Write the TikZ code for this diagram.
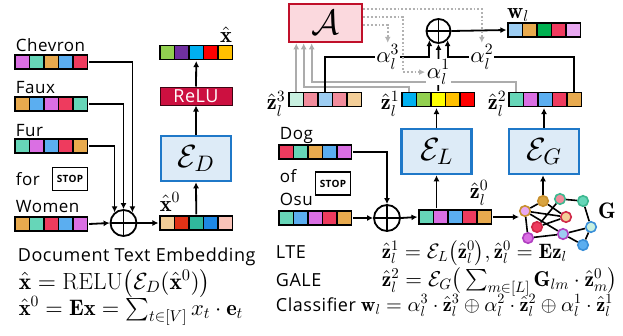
\documentclass[tikz,border=0pt]{standalone}
\usepackage{amsmath}
\usepackage{graphicx}
\usepackage{fontspec}
\newfontfamily\uifont{Open Sans}[LetterSpace=3]
\usetikzlibrary{arrows.meta, calc, fit}

\DeclareFontShape{OML}{cmm}{m}{it}{<->cmmi10}{}
\DeclareFontShape{OML}{cmm}{b}{it}{<->cmmib10}{}
\DeclareFontShape{OMS}{cmsy}{m}{n}{<->cmsy10}{}
\DeclareFontShape{OMS}{cmsy}{b}{n}{<->cmbsy10}{}
\DeclareFontShape{OMX}{cmex}{m}{n}{<->cmex10}{}
\DeclareFontShape{OT1}{cmr}{m}{n}{<->cmr10}{}
\DeclareFontShape{OT1}{cmr}{bx}{n}{<->cmbx10}{}

\definecolor{cOrchid}{HTML}{DA6FE3}
\definecolor{cTeal}{HTML}{66D6B8}
\definecolor{cOrange}{HTML}{E8AA4E}
\definecolor{cBlue}{HTML}{5BAEF0}
\definecolor{cRose}{HTML}{EE3B5E}
\definecolor{cWheat}{HTML}{F3CE98}
\definecolor{cVermil}{HTML}{E03216}
\definecolor{cJade}{HTML}{30B89C}
\definecolor{cAzure}{HTML}{1E88E5}
\definecolor{cBlush}{HTML}{FAC3B8}
\definecolor{cLime}{HTML}{92D050}
\definecolor{cPurple}{HTML}{7030A0}
\definecolor{cCyan}{HTML}{00B0F0}
\definecolor{cRed}{HTML}{FF0000}
\definecolor{cGold}{HTML}{FFC000}
\definecolor{cYellow}{HTML}{FFFF00}
\definecolor{cMint}{HTML}{C8F0E0}
\definecolor{cPink}{HTML}{F18C9C}
\definecolor{cSky}{HTML}{9DCDF2}
\definecolor{cGreen}{HTML}{00B050}
\definecolor{cLilac}{HTML}{E8A8F0}
\definecolor{encBlue}{HTML}{1F78C8}
\definecolor{encFill}{HTML}{DDEBF7}
\definecolor{attnRed}{HTML}{C0102A}
\definecolor{attnFill}{HTML}{FBD9DE}
\definecolor{reluRed}{HTML}{CC1040}
\definecolor{gTan}{HTML}{C8902E}
\definecolor{gTanFill}{HTML}{D9A441}
\definecolor{gSea}{HTML}{3DB890}
\definecolor{gCrim}{HTML}{D02848}
\definecolor{gRoyal}{HTML}{3A8FD8}
\definecolor{gPlum}{HTML}{B040C0}

\newcommand{\mathsize}{\fontsize{19.5}{22}\selectfont}
\newcommand{\mlbl}[1]{\scalebox{1.15}{$#1$}}

\tikzset{
  cell/.style={draw=black, line width=1.3pt, minimum width=14.5pt, minimum height=14pt, inner sep=0pt},
  enc/.style={draw=encBlue, fill=encFill, line width=2.6pt, minimum width=70pt, minimum height=45pt, inner sep=0pt, font=\fontsize{32}{32}\selectfont},
  attnbox/.style={draw=attnRed, fill=attnFill, line width=2.6pt, minimum width=73pt, minimum height=38pt, inner sep=0pt, font=\fontsize{35}{35}\selectfont},
  relubox/.style={draw=black!70!reluRed, fill=reluRed, line width=1pt, minimum width=72pt, minimum height=18pt, inner sep=0pt, text=white, font=\uifont\fontsize{18}{18}\selectfont},
  stopbox/.style={draw=black, line width=1.5pt, fill=white, minimum width=35pt, minimum height=23pt, inner sep=0pt, font=\uifont\fontsize{10}{10}\selectfont\bfseries},
  oplus/.style={circle, draw=black, line width=1.8pt, minimum size=26pt, inner sep=0pt,
    path picture={\draw[line width=1.8pt] (path picture bounding box.north) -- (path picture bounding box.south)
      (path picture bounding box.west) -- (path picture bounding box.east);}},
  mlab/.style={inner sep=1pt, font=\mathsize},
  alab/.style={fill=white, inner sep=1pt, font=\mathsize},
  gbus/.style={draw=gray!65, line width=1.8pt, ->},
  dbus/.style={draw=gray!60, line width=1.8pt, dotted, ->},
  gnode/.style={circle, minimum size=10.5pt, inner sep=0pt, line width=1.6pt},
  gedge/.style={line width=1.6pt}
}

\newcommand{\embbar}[4]{%
  \foreach \clr [count=\i] in {#4}
    \node[cell, fill=\clr] (#1\i) at ({#2+(\i-0.5)*14.5},#3) {};
  \node[fit=(#11)(#15), inner sep=0pt] (#1) {};
}

\begin{document}
\begin{tikzpicture}[x=1pt, y=-1pt, line width=1.8pt, >={Latex[length=6pt,width=6pt]},
    font=\uifont\fontsize{17}{20}\selectfont]
  \useasboundingbox (0,0) rectangle (623,335);

  % left: document text embedding
  \node[anchor=base west, inner sep=0pt] (tchev) at (15,51) {Chevron};
  \node[anchor=base west, inner sep=0pt] (tfaux) at (15,93) {Faux};
  \node[anchor=base west, inner sep=0pt] (tfur) at (15,136) {Fur};
  \node[anchor=base west, inner sep=0pt] (tfor) at (15,185) {for};
  \node[anchor=base west, inner sep=0pt] (twomen) at (15,212) {Women};
  \embbar{chev}{15}{62}{cOrchid,cTeal,cOrange,cBlue,cRose}
  \embbar{faux}{15}{104}{cOrange,cBlue,cOrchid,cRose,cTeal}
  \embbar{fur}{15}{146}{cTeal,cOrchid,cBlue,cRose,cOrange}
  \embbar{women}{15}{224}{cOrange,cTeal,cRose,cBlue,cOrchid}
  \embbar{xzero}{160}{223}{cWheat,cVermil,cJade,cAzure,cBlush}
  \embbar{xhat}{160}{52.5}{cLime,cPurple,cCyan,cRed,cGold}
  \node[stopbox] (stopL) at (70,179) {STOP};
  \node[oplus] (plusL) at (123.5,223) {};
  \node[enc] (encD) at (196,158.5) {$\mathcal{E}_D$};
  \node[relubox] (relu) at (196,96) {ReLU};
  \node[mlab] (lxzero) at (170,202) {\mlbl{\hat{\mathbf{x}}^0}};
  \node[mlab] (lxhat) at (226,35) {\mlbl{\hat{\mathbf{x}}}};

  \draw[->] (chev.east) -| (plusL.50);
  \draw[->] (faux.east) -| (plusL.north);
  \draw[->] (fur.east) -| (plusL.130);
  \draw[->] (women.east) -- (plusL.west);
  \draw[->] (plusL.east) -- (xzero.west);
  \draw[->] (xzero.north) -- (encD.south);
  \draw[->] (encD.north) -- (relu.south);
  \draw[->] (relu.north) -- (xhat.south);

  % right: label text, LTE and GALE
  \node[anchor=base west, inner sep=0pt] (tdog) at (279,139) {Dog};
  \node[anchor=base west, inner sep=0pt] (tof) at (279,182) {of};
  \node[anchor=base west, inner sep=0pt] (tosu) at (279,205) {Osu};
  \embbar{dog}{279}{152}{cRose,cTeal,cOrange,cBlue,cOrchid}
  \embbar{osu}{279}{218}{cTeal,cBlue,cOrchid,cRose,cOrange}
  \embbar{zzero}{419}{217}{cTeal,cOrchid,cBlue,cRose,cOrange}
  \embbar{zthree}{289}{99.5}{cMint,cPink,cSky,cPink,cWheat}
  \embbar{zone}{402}{99.5}{cCyan,cLime,cYellow,cGold,cRed}
  \embbar{ztwo}{509}{99.5}{cTeal,cOrchid,cBlue,cRose,cOrange}
  \embbar{wl}{508}{30}{cSky,cOrange,cGreen,cRose,cLilac}
  \node[stopbox] (stopR) at (333,183.5) {STOP};
  \node[oplus] (plusR) at (387,218) {};
  \node[oplus, minimum size=24pt] (plusT) at (438.5,31) {};
  \node[enc] (encL) at (436.5,151.5) {$\mathcal{E}_L$};
  \node[enc] (encG) at (544,151.5) {$\mathcal{E}_G$};
  \node[attnbox] (attn) at (325.5,23) {$\mathcal{A}$};
  \node[mlab] (lzzero) at (479,193) {\mlbl{\hat{\mathbf{z}}_l^0}};
  \node[mlab] (lzthree) at (276,104) {\mlbl{\hat{\mathbf{z}}_l^3}};
  \node[mlab] (lzone) at (390,104) {\mlbl{\hat{\mathbf{z}}_l^1}};
  \node[mlab] (lztwo) at (497,104) {\mlbl{\hat{\mathbf{z}}_l^2}};
  \node[mlab] (lwl) at (518,15) {\mlbl{\mathbf{w}_l}};
  \node[mlab] (lG) at (607,211) {\mlbl{\mathbf{G}}};

  % label graph
  \node[gnode, draw=gTan, fill=gTanFill] (g1) at (543,201) {};
  \node[gnode, draw=gSea, fill=cPink] (g2) at (560,199) {};
  \node[gnode, draw=gSea, fill=cTeal] (g3) at (583,201) {};
  \node[gnode, draw=gTan, fill=cLilac] (g4) at (525,211) {};
  \node[gnode, draw=gCrim, fill=cWheat] (g5) at (566,217) {};
  \node[gnode, draw=gCrim, fill=cRose] (g6) at (537,227) {};
  \node[gnode, draw=gRoyal, fill=cMint] (g7) at (591,227) {};
  \node[gnode, draw=gPlum, fill=cOrchid] (g8) at (528,238) {};
  \node[gnode, draw=gPlum, fill=cSky] (g9) at (563,234) {};
  \node[gnode, draw=gRoyal, fill=cBlue] (g10) at (583,245) {};
  \foreach \a/\b in {g4/g1, g4/g5, g4/g9, g4/g8, g1/g5, g2/g6, g2/g3, g3/g7, g6/g5, g8/g9, g9/g7, g7/g10, g9/g10}
    \draw[gedge] (\a) -- (\b);

  \draw[->] (dog.east) -| (plusR.north);
  \draw[->] (osu.east) -- (plusR.west);
  \draw[->] (plusR.east) -- (zzero.west);
  \draw[->] (zzero.north -| encL.south) -- (encL.south);
  \draw[->] (encL.north) -- (encL.north |- zone.south);
  \draw[->] (zzero.east) -- (zzero.east -| g4.west);
  \draw[->] (g1.north) -- (g1.north |- encG.south);
  \draw[->] (encG.north) -- (encG.north |- ztwo.south);

  \draw[gbus] (zthree1.north) -- (zthree1.north |- attn.south);
  \draw[gbus] (zone1.north) -- ++(0,-5) -| ([xshift=16pt]attn.south west);
  \draw[gbus] (ztwo1.north) -- ++(0,-10) -| ([xshift=24pt]attn.south west);

  \coordinate (lev) at (0,57);
  \draw[->] (zthree3.north) |- node[alab, pos=0.8] (al3) {\mlbl{\alpha_l^3}} (plusT.225 |- lev) -- (plusT.225);
  \draw[->] (zone.north) -- node[alab, pos=0.4] (al1) {\mlbl{\alpha_l^1}} (plusT.south);
  \draw[->] (ztwo5.north) |- node[alab, pos=0.865] (al2) {\mlbl{\alpha_l^2}} (plusT.315 |- lev) -- (plusT.315);
  \draw[->] (plusT.east) -- (wl.west);

  \draw[dbus] ([yshift=14pt]attn.east) -| (al2.north);
  \draw[dbus] ([yshift=6pt]attn.east) -| ([xshift=-22pt]al1.west) -- (al1.west);
  \draw[dbus] ([yshift=-2pt]attn.east) -| (al3.north);

  % formulas
  \node[anchor=base west, inner sep=0pt, font=\uifont\fontsize{18}{20}\selectfont] (tdoc) at (17,261) {Document Text Embedding};
  \node[anchor=base west, inner sep=0pt, mlab] (fxhat) at (17,289) {\scalebox{1.2}{$\hat{\mathbf{x}} = \mathrm{RELU}\big(\mathcal{E}_D(\hat{\mathbf{x}}^0)\big)$}};
  \node[anchor=base west, inner sep=0pt, mlab] (fxzero) at (17,315) {\scalebox{1.15}{$\hat{\mathbf{x}}^0 = \mathbf{E}\mathbf{x} = \sum_{t\in[V]} x_t\cdot\mathbf{e}_t$}};
  \node[anchor=base west, inner sep=0pt, font=\uifont\fontsize{18}{20}\selectfont] (tlte) at (275,258) {LTE};
  \node[anchor=base west, inner sep=0pt, mlab] (flte) at (380,258) {\scalebox{1.07}{$\hat{\mathbf{z}}_l^1 = \mathcal{E}_L\big(\hat{\mathbf{z}}_l^0\big), \hat{\mathbf{z}}_l^0 = \mathbf{E}\mathbf{z}_l$}};
  \node[anchor=base west, inner sep=0pt, font=\uifont\fontsize{18}{20}\selectfont] (tgale) at (275,286) {GALE};
  \node[anchor=base west, inner sep=0pt, mlab] (fgale) at (380,286) {\scalebox{1.1}{$\hat{\mathbf{z}}_l^2 = \mathcal{E}_G\big(\sum_{m\in[L]}\mathbf{G}_{lm}\cdot\hat{\mathbf{z}}_m^0\big)$}};
  \node[anchor=base west, inner sep=0pt, font=\uifont\fontsize{18}{20}\selectfont] (tcls) at (275,311) {Classifier};
  \node[anchor=base west, inner sep=0pt, mlab] (fcls) at (359,311) {\scalebox{1.04}{$\mathbf{w}_l = \alpha_l^3\cdot\hat{\mathbf{z}}_l^3 \oplus \alpha_l^2\cdot\hat{\mathbf{z}}_l^2 \oplus \alpha_l^1\cdot\hat{\mathbf{z}}_l^1$}};
\end{tikzpicture}
\end{document}
